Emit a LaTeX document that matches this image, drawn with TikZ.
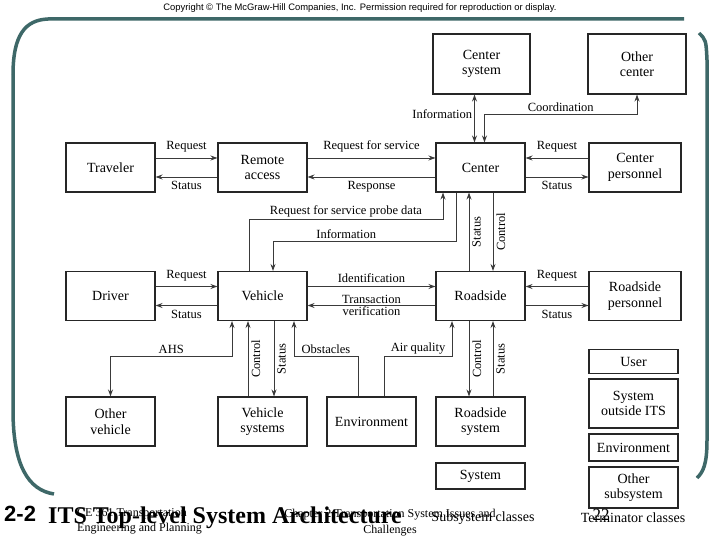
\documentclass[tikz,border=0pt]{standalone}
\usepackage{fontspec}
\setmainfont{Liberation Serif}
\setsansfont{Liberation Sans}
\usetikzlibrary{arrows.meta,positioning,calc}
\definecolor{framegreen}{HTML}{3E6868}
\definecolor{linegray}{HTML}{3A3A3A}
\tikzset{
  subsys/.style={rectangle,draw=black!85,line width=1.1pt,minimum width=89pt,minimum height=49pt,
    inner sep=1pt,align=center,font=\fontsize{14}{15.5}\selectfont},
  myarrow/.style={-{Stealth[length=7pt,width=5pt]},line width=0.9pt,draw=linegray},
  biarrow/.style={{Stealth[length=7pt,width=5pt]}-{Stealth[length=7pt,width=5pt]},line width=0.9pt,draw=linegray},
  arrlabel/.style={font=\fontsize{12.5}{13}\selectfont,inner sep=2pt},
  vlabel/.style={arrlabel,rotate=90,anchor=north,inner sep=3pt},
}

\begin{document}
\begin{tikzpicture}[x=1pt,y=-1pt,
  term/.style={subsys,minimum height=#1},
  term/.default={49pt},
  caption/.style={font=\fontsize{14}{15}\selectfont},
]
  \useasboundingbox[fill=white] (0,0) rectangle (720,540);
  % slide frame
  \draw[framegreen,line width=3.5pt] (13,75) .. controls (13,35) and (25,20) .. (48,19) -- (684,19);
  \draw[framegreen,line width=3.5pt] (13,75) -- (13,410) .. controls (13,465) and (28,490) .. (54,494);
  \draw[framegreen,line width=3.5pt] (699,33) .. controls (706,40) .. (707,60) -- (707,440)
    .. controls (707,465) and (703,472) .. (697,478);
  \node[font=\sffamily\fontsize{9.4}{10}\selectfont] (copy) at (360,8)
    {Copyright © The McGraw-Hill Companies, Inc. Permission required for reproduction or display.};

  % subsystems and terminators
  \node[subsys,minimum width=97pt,minimum height=60pt] (csys) at (481.5,64) {Center\\system};
  \node[subsys,minimum width=98pt,minimum height=60pt] (othc) at (637,64) {Other\\center};
  \node[subsys] (trav) at (110.5,167.5) {Traveler};
  \node[subsys] (remote) at (262.5,167.5) {Remote\\access};
  \node[subsys] (center) at (480.5,167.5) {Center};
  \node[subsys,minimum width=92pt] (cpers) at (635,167.5) {Center\\personnel};
  \node[subsys] (driver) at (110.5,296) {Driver};
  \node[subsys] (vehicle) at (262.5,296) {Vehicle};
  \node[subsys] (roadside) at (480.5,296) {Roadside};
  \node[subsys,minimum width=92pt] (rpers) at (635,296) {Roadside\\personnel};
  \node[subsys] (ovh) at (110.5,421.5) {Other\\vehicle};
  \node[subsys] (vsys) at (262.5,421.5) {Vehicle\\systems};
  \node[subsys] (env) at (371.5,421.5) {Environment};
  \node[subsys] (rsys) at (480.5,421.5) {Roadside\\system};

  % legend
  \node[term=26pt] (sysleg) at (480.5,476) {System};
  \node[term=24pt] (user) at (633.5,361.5) {User};
  \node[term=49pt] (sout) at (633.5,403.5) {System\\outside ITS};
  \node[term=27pt] (envleg) at (633.5,447.5) {Environment};
  \node[term=41pt] (osub) at (633.5,487.5) {Other\\subsystem};
  \node[caption] (subcap) at (483,518) {Subsystem classes};
  \node[caption] (termcap) at (633,518) {Terminator classes};

  % center links
  \draw[biarrow] ([xshift=-7pt]csys.south) -- node[arrlabel,left,pos=0.4]{Information}
    ([xshift=-7pt]csys.south |- center.north);
  \draw[biarrow] (othc.south) -- ++(0,20) -| node[arrlabel,above,pos=0.25]{Coordination}
    ([xshift=4pt]center.north);
  \draw[myarrow] ([yshift=9.5pt]trav.east) -- node[arrlabel,above=3pt]{Request} ([yshift=9.5pt]remote.west);
  \draw[myarrow] ([yshift=-9.5pt]remote.west) -- node[arrlabel,below=2pt]{Status} ([yshift=-9.5pt]trav.east);
  \draw[myarrow] ([yshift=9.5pt]remote.east) -- node[arrlabel,above=3pt]{Request for service}
    ([yshift=9.5pt]center.west);
  \draw[myarrow] ([yshift=-9.5pt]center.west) -- node[arrlabel,below=2pt]{Response}
    ([yshift=-9.5pt]remote.east);
  \draw[myarrow] ([yshift=9.5pt]cpers.west) -- node[arrlabel,above=3pt]{Request} ([yshift=9.5pt]center.east);
  \draw[myarrow] ([yshift=-9.5pt]center.east) -- node[arrlabel,below=2pt]{Status} ([yshift=-9.5pt]cpers.west);
  \draw[myarrow] ([xshift=-13.5pt]vehicle.north) -- ++(0,-51) -| node[arrlabel,above,pos=0.25]
    {Request for service probe data} ([xshift=-37.5pt]center.south);
  \draw[myarrow] ([xshift=-24.5pt]center.south) -- ++(0,49) -| node[arrlabel,above,pos=0.3]
    {Information} ([xshift=10.5pt]vehicle.north);
  \draw[myarrow] ([xshift=-11.5pt]roadside.north) -- node[vlabel]{Status}
    ([xshift=-11.5pt]roadside.north |- center.south);
  \draw[myarrow] ([xshift=12.5pt]center.south) -- node[vlabel]{Control}
    ([xshift=12.5pt]center.south |- roadside.north);

  % vehicle and roadside links
  \draw[myarrow] ([yshift=9.5pt]driver.east) -- node[arrlabel,above=3pt]{Request} ([yshift=9.5pt]vehicle.west);
  \draw[myarrow] ([yshift=-9.5pt]vehicle.west) -- node[arrlabel,below=2pt]{Status} ([yshift=-9.5pt]driver.east);
  \draw[myarrow] ([yshift=9.5pt]vehicle.east) -- node[arrlabel,above=1pt]{Identification}
    ([yshift=9.5pt]roadside.west);
  \draw[myarrow] ([yshift=-9.5pt]roadside.west) -- node[arrlabel,above=-1pt]{Transaction}
    node[arrlabel,below=-1pt]{verification} ([yshift=-9.5pt]vehicle.east);
  \draw[myarrow] ([yshift=9.5pt]rpers.west) -- node[arrlabel,above=3pt]{Request} ([yshift=9.5pt]roadside.east);
  \draw[myarrow] ([yshift=-9.5pt]roadside.east) -- node[arrlabel,below=2pt]{Status} ([yshift=-9.5pt]rpers.west);

  % lower links
  \draw[biarrow] (ovh.north) -- ++(0,-40) -| node[arrlabel,above,pos=0.25]{AHS}
    ([xshift=-30.5pt]vehicle.south);
  \draw[myarrow] ([xshift=-14.5pt]vsys.north) -- node[vlabel]{Control}
    ([xshift=-14.5pt]vsys.north |- vehicle.south);
  \draw[myarrow] ([xshift=11.5pt]vehicle.south) -- node[vlabel]{Status}
    ([xshift=11.5pt]vehicle.south |- vsys.north);
  \draw[myarrow] ([xshift=-13.5pt]env.north) -- ++(0,-40) -| node[arrlabel,above,pos=0.25]{Obstacles}
    ([xshift=31.5pt]vehicle.south);
  \draw[myarrow] ([xshift=12.5pt]env.north) -- ++(0,-40) -| node[arrlabel,above,pos=0.25]{Air quality}
    ([xshift=-28.5pt]roadside.south);
  \draw[myarrow] ([xshift=-11.5pt]roadside.south) -- node[vlabel]{Control}
    ([xshift=-11.5pt]roadside.south |- rsys.north);
  \draw[myarrow] ([xshift=12.5pt]rsys.north) -- node[vlabel]{Status}
    ([xshift=12.5pt]rsys.north |- roadside.south);

  % slide footer
  \node[font=\sffamily\bfseries\fontsize{22}{24}\selectfont,anchor=base west,inner sep=0pt] (num) at (4,521) {2-2};
  \node[font=\fontsize{12}{15.5}\selectfont,anchor=north west,align=left,inner sep=0pt] (course) at (77,508)
    {CE 361 Transportation\\Engineering and Planning};
  \node[font=\fontsize{12}{15.5}\selectfont,anchor=north,align=center,inner sep=0pt] (chap) at (390,509)
    {Chapter 2 Transportation System Issues and\\Challenges};
  \node[font=\bfseries\fontsize{24}{26}\selectfont,anchor=base west,inner sep=0pt] (title) at (48,523)
    {ITS Top-level System Architecture};
  \node[font=\fontsize{17}{18}\selectfont] (page) at (601,515) {22};
\end{tikzpicture}
\end{document}
